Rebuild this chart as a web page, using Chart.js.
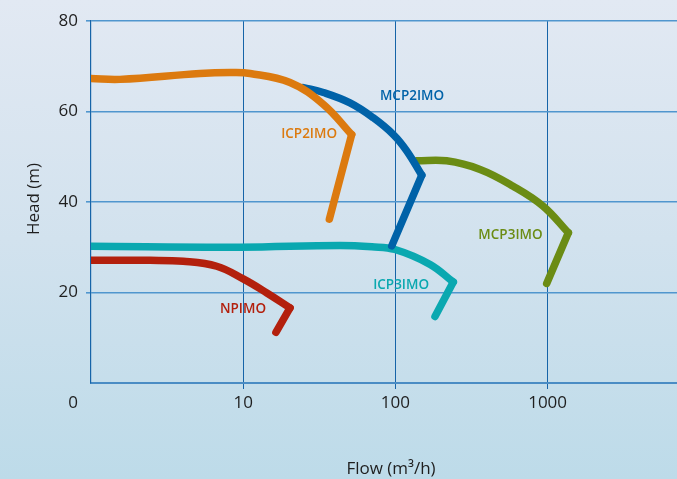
<!DOCTYPE html>
<html>
<head>
<meta charset="utf-8">
<script src="https://cdn.jsdelivr.net/npm/chart.js@4.4.1/dist/chart.umd.min.js"></script>
<style>
  html, body { margin: 0; padding: 0; overflow: hidden; }
  #wrap { width: 677px; height: 479px; position: relative; }
</style>
</head>
<body>
<div id="wrap"><canvas id="c" width="677" height="479"></canvas></div>
<script>
// Pump performance curves: flow (m³/h, log scale) vs head (m)
const xTickValues = [1, 10, 100, 1000];
const xTickLabels = ['0', '10', '100', '1000'];
const yTickValues = [20, 40, 60, 80];

// Each curve: main branch (rising flow) plus the short cut-back branch at the end
const npimoFlow = [1, 2.44, 4.04, 6.70, 10, 14.3, 20.3];
const npimoHead = [27.1, 27.1, 26.9, 25.8, 23.0, 19.9, 16.6];
const npimoTailFlow = [20.3, 16.4];
const npimoTailHead = [16.6, 11.2];

const icp3Flow = [1, 9.5, 43, 70, 99.4, 169, 240];
const icp3Head = [30.2, 30.0, 30.4, 30.1, 29.5, 26.2, 22.3];
const icp3TailFlow = [240, 182];
const icp3TailHead = [22.3, 14.7];

const icp2Flow = [1, 1.55, 5.2, 8.19, 11.1, 20.3, 33.6, 51.6];
const icp2Head = [67.3, 67.1, 68.4, 68.6, 68.4, 66.4, 61.6, 54.9];
const icp2TailFlow = [51.6, 36.8];
const icp2TailHead = [54.9, 36.2];

const mcp2Flow = [24.8, 33.6, 50.3, 71.6, 96.9, 118.6, 149];
const mcp2Head = [65.3, 64.2, 61.9, 58.6, 54.9, 51.3, 45.9];
const mcp2TailFlow = [149, 94.6];
const mcp2TailHead = [45.9, 30.3];

const mcp3Flow = [138, 217, 360, 593, 933, 1368];
const mcp3Head = [49.1, 49.1, 47.2, 43.5, 39.1, 33.2];
const mcp3TailFlow = [1368, 986];
const mcp3TailHead = [33.2, 22.0];

const curveNames = ['NPIMO', 'ICP3IMO', 'ICP2IMO', 'MCP2IMO', 'MCP3IMO'];
// where each curve name is written (flow, head)
const nameFlow = [9.97, 109, 27.1, 128.5, 570];
const nameHead = [16.4, 21.7, 54.9, 63.3, 32.7];

const colors = ['#b3200d', '#0aa8b0', '#dc7a0f', '#0062a8', '#6b8c14'];
const drawOrder = [1, 5, 2, 3, 4]; // lower = drawn on top

const curves = [
  [npimoFlow, npimoHead, npimoTailFlow, npimoTailHead],
  [icp3Flow, icp3Head, icp3TailFlow, icp3TailHead],
  [icp2Flow, icp2Head, icp2TailFlow, icp2TailHead],
  [mcp2Flow, mcp2Head, mcp2TailFlow, mcp2TailHead],
  [mcp3Flow, mcp3Head, mcp3TailFlow, mcp3TailHead]
];

const pts = (xs, ys) => xs.map((x, i) => ({ x: x, y: ys[i] }));

const datasets = [];
curves.forEach((c, i) => {
  const common = {
    borderColor: colors[i],
    borderWidth: 7.5,
    borderCapStyle: 'round',
    borderJoinStyle: 'round',
    pointRadius: 0,
    pointHoverRadius: 0,
    fill: false,
    order: drawOrder[i]
  };
  datasets.push(Object.assign({ label: curveNames[i], data: pts(c[0], c[1]), tension: 0.4 }, common));
  datasets.push(Object.assign({ label: curveNames[i] + ' end', data: pts(c[2], c[3]), tension: 0 }, common));
});

const FONT = "'Open Sans', 'DejaVu Sans', sans-serif";

const backdrop = {
  id: 'backdrop',
  beforeDraw(chart) {
    const ctx = chart.ctx;
    const g = ctx.createLinearGradient(0, 0, 0, chart.height);
    g.addColorStop(0, '#e2e9f3');
    g.addColorStop(0.5, '#d2e2ee');
    g.addColorStop(1, '#bddbe9');
    ctx.save();
    ctx.fillStyle = g;
    ctx.fillRect(0, 0, chart.width, chart.height);
    ctx.restore();
  }
};

const annotations = {
  id: 'annotations',
  afterDraw(chart) {
    const ctx = chart.ctx;
    const xs = chart.scales.x, ys = chart.scales.y;
    ctx.save();
    // x tick labels
    ctx.font = '17px ' + FONT;
    ctx.fillStyle = '#1e1e1e';
    ctx.textAlign = 'center';
    ctx.textBaseline = 'middle';
    xTickValues.forEach((v, i) => {
      const nudge = i === 0 ? -18 : 0;
      ctx.fillText(xTickLabels[i], xs.getPixelForValue(v) + nudge, ys.bottom + 20);
    });
    // axis titles
    ctx.fillText('Flow (m³/h)', 391, 469);
    ctx.save();
    ctx.translate(34, 199);
    ctx.rotate(-Math.PI / 2);
    ctx.fillText('Head (m)', 0, 0);
    ctx.restore();
    // curve names
    ctx.font = '600 13.5px ' + FONT;
    curveNames.forEach((n, i) => {
      ctx.fillStyle = colors[i];
      ctx.fillText(n, xs.getPixelForValue(nameFlow[i]), ys.getPixelForValue(nameHead[i]));
    });
    ctx.restore();
  }
};

new Chart(document.getElementById('c'), {
  type: 'line',
  data: { datasets: datasets },
  options: {
    responsive: false,
    animation: false,
    devicePixelRatio: 1,
    layout: { padding: { top: 21, right: 0, bottom: 0, left: 0 } },
    plugins: { legend: { display: false }, tooltip: { enabled: false } },
    scales: {
      x: {
        type: 'logarithmic',
        min: 1,
        max: Math.pow(10, 3.85),
        afterBuildTicks(scale) { scale.ticks = xTickValues.map(v => ({ value: v })); },
        afterFit(scale) { scale.height = 96; },
        ticks: { display: false },
        grid: {
          color: ctx => (ctx.tick && ctx.tick.value === 1 ? 'rgba(0,0,0,0)' : '#1664a8'),
          lineWidth: 1,
          tickLength: 6,
          drawTicks: true
        },
        border: { display: true, color: '#4a8cc4', width: 2 }
      },
      y: {
        min: 0,
        max: 80,
        afterBuildTicks(scale) { scale.ticks = yTickValues.map(v => ({ value: v })); },
        afterFit(scale) { scale.width = 91; },
        ticks: {
          font: { family: FONT, size: 17 },
          color: '#1e1e1e',
          padding: 8
        },
        grid: {
          color: '#5096ce',
          lineWidth: 1.6,
          tickLength: 5
        },
        border: { display: true, color: '#1664a8', width: 1.2 }
      }
    }
  },
  plugins: [backdrop, annotations]
});
</script>
</body>
</html>
